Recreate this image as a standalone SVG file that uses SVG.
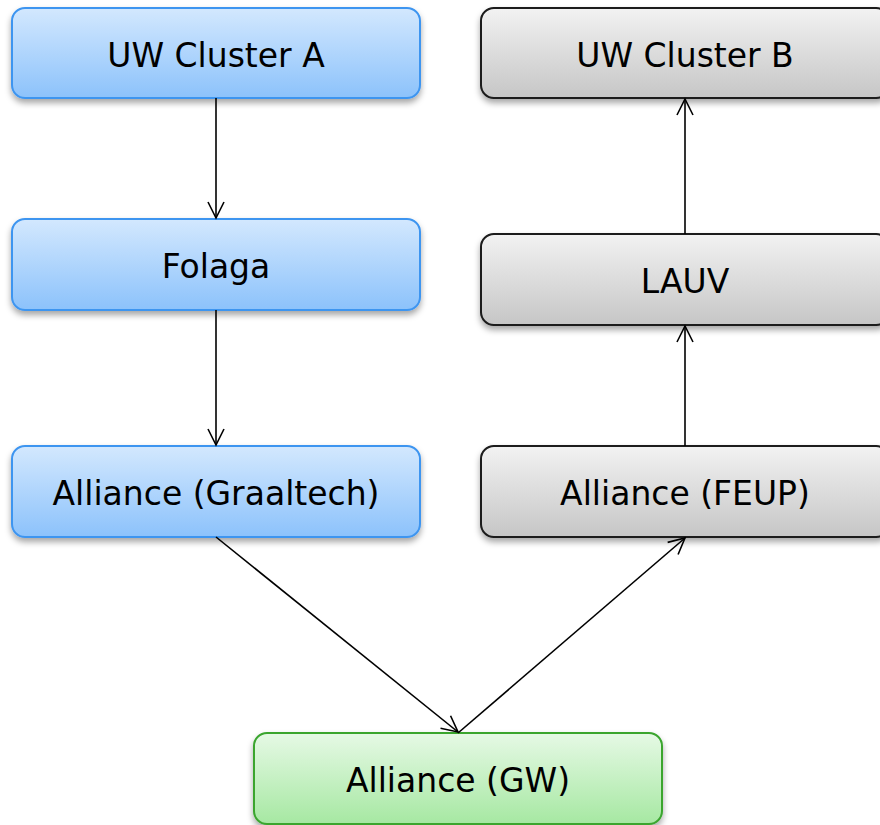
<svg xmlns="http://www.w3.org/2000/svg" width="880" height="825" viewBox="0 0 880 825">
<defs>
<linearGradient id="gBlue" x1="0" y1="0" x2="0" y2="1"><stop offset="0" stop-color="#d3e8fe"/><stop offset="1" stop-color="#8cc2fb"/></linearGradient>
<linearGradient id="gGray" x1="0" y1="0" x2="0" y2="1"><stop offset="0" stop-color="#f2f2f2"/><stop offset="1" stop-color="#c6c6c6"/></linearGradient>
<linearGradient id="gGreen" x1="0" y1="0" x2="0" y2="1"><stop offset="0" stop-color="#e6f9e5"/><stop offset="1" stop-color="#a6e8a2"/></linearGradient>
<filter id="sh" x="-10%" y="-10%" width="120%" height="130%"><feDropShadow dx="0" dy="4" stdDeviation="3" flood-color="#000" flood-opacity="0.35"/></filter>
<marker id="ah" viewBox="0 0 20 20" refX="18" refY="10" markerWidth="20" markerHeight="20" markerUnits="userSpaceOnUse" orient="auto"><path d="M2,2 L18,10 L2,18" fill="none" stroke="#000" stroke-width="1.6"/></marker>
</defs>
<style>
.box{stroke-width:2;filter:url(#sh)}
.blue{fill:url(#gBlue);stroke:#3e95f0}
.gray{fill:url(#gGray);stroke:#1a1a1a}
.green{fill:url(#gGreen);stroke:#3aa52f}
text{font-family:"DejaVu Sans",Verdana,sans-serif;font-size:33px;fill:#000;text-anchor:middle}
.conn line{stroke:#000;stroke-width:1.6;marker-end:url(#ah)}
</style>
<rect width="880" height="825" fill="#fff"/>
<g id="uwA"><rect class="box blue" x="12" y="8" width="408" height="90" rx="13"/><text x="216" y="67">UW Cluster A</text></g>
<g id="uwB"><rect class="box gray" x="481" y="8" width="408" height="90" rx="13"/><text x="685" y="67">UW Cluster B</text></g>
<g id="folaga"><rect class="box blue" x="12" y="219" width="408" height="91" rx="13"/><text x="216" y="278">Folaga</text></g>
<g id="lauv"><rect class="box gray" x="481" y="234" width="408" height="91" rx="13"/><text x="685" y="293">LAUV</text></g>
<g id="graaltech"><rect class="box blue" x="12" y="446" width="408" height="91" rx="13"/><text x="216" y="505">Alliance (Graaltech)</text></g>
<g id="feup"><rect class="box gray" x="481" y="446" width="408" height="91" rx="13"/><text x="685" y="505">Alliance (FEUP)</text></g>
<g id="gw"><rect class="box green" x="254" y="733" width="408" height="91" rx="13"/><text x="458" y="792">Alliance (GW)</text></g>
<g id="connectors" class="conn">
<line x1="216" y1="98" x2="216" y2="218"/>
<line x1="216" y1="310" x2="216" y2="445"/>
<line x1="216" y1="537" x2="458" y2="732"/>
<line x1="458" y1="733" x2="685" y2="538"/>
<line x1="685" y1="446" x2="685" y2="326"/>
<line x1="685" y1="234" x2="685" y2="99"/>
</g>
</svg>
